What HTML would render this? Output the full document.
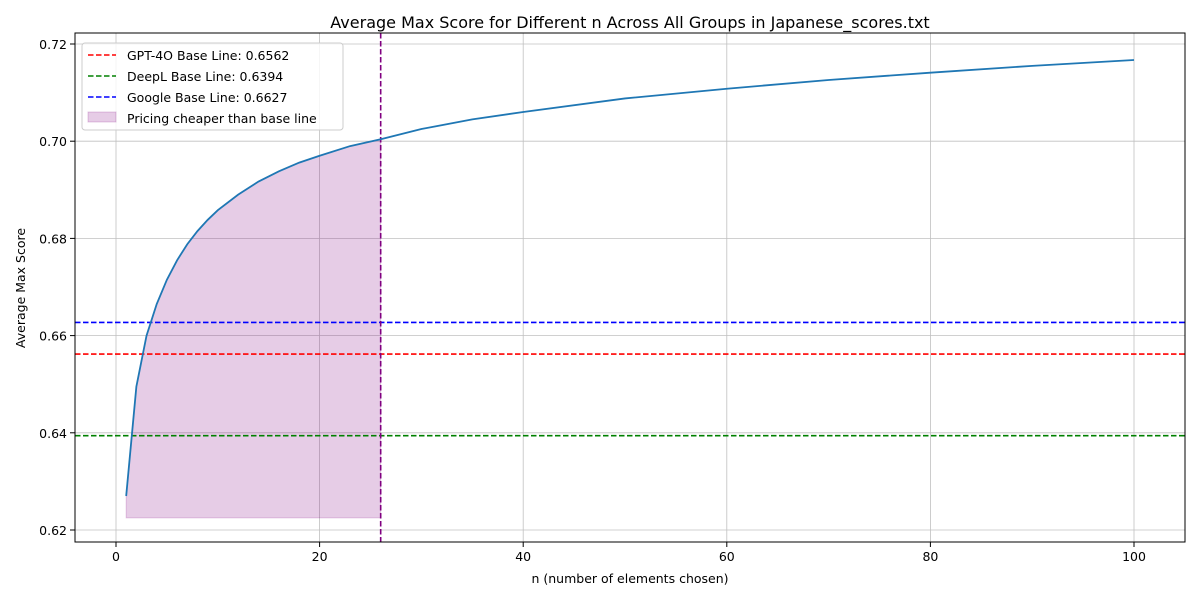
<!DOCTYPE html>
<html><head><meta charset="utf-8"><style>
body{margin:0;background:#fff;font-family:"Liberation Sans","DejaVu Sans",sans-serif}
svg text{font-family:"DejaVu Sans","Liberation Sans",sans-serif}
</style></head><body>
<svg id="chart" width="1200" height="600" viewBox="0 0 1200 600" xmlns="http://www.w3.org/2000/svg">
<rect width="1200" height="600" fill="#fff"/>
<g id="grid"></g>
<g id="marks"></g>
<rect x="75" y="33" width="1110" height="509" fill="none" stroke="#000" stroke-width="1"/>
<g id="ticks"></g>
<text x="630" y="28" text-anchor="middle" font-size="16">Average Max Score for Different n Across All Groups in Japanese_scores.txt</text>
<text x="630" y="583" text-anchor="middle" font-size="12.5">n (number of elements chosen)</text>
<text transform="translate(25,288) rotate(-90)" text-anchor="middle" font-size="12.5">Average Max Score</text>
<g>
<rect x="82" y="43" width="261" height="87" rx="3" fill="#fff" fill-opacity="0.8" stroke="#ccc"/>
<line x1="88" y1="55" x2="116" y2="55" stroke="red" stroke-width="1.6" stroke-dasharray="5.5,2.5"/>
<text x="127" y="60" font-size="12.5">GPT-4O Base Line: 0.6562</text>
<line x1="88" y1="76" x2="116" y2="76" stroke="green" stroke-width="1.6" stroke-dasharray="5.5,2.5"/>
<text x="127" y="81" font-size="12.5">DeepL Base Line: 0.6394</text>
<line x1="88" y1="97" x2="116" y2="97" stroke="blue" stroke-width="1.6" stroke-dasharray="5.5,2.5"/>
<text x="127" y="102" font-size="12.5">Google Base Line: 0.6627</text>
<rect x="88" y="112" width="28" height="10" fill="purple" fill-opacity="0.2" stroke="purple" stroke-opacity="0.2"/>
<text x="127" y="123" font-size="12.5">Pricing cheaper than base line</text>
</g>
</svg>
<script>
const nValues=[1,2,3,4,5,6,7,8,9,10,12,14,16,18,20,23,26,30,35,40,50,60,70,80,90,100];
const scores=[0.627,0.6495,0.6600,0.6665,0.6715,0.6755,0.6788,0.6815,0.6838,0.6858,0.6890,0.6917,0.6938,0.6956,0.6970,0.6990,0.7004,0.7025,0.7045,0.7060,0.7088,0.7108,0.7126,0.7141,0.7155,0.7167];
const baselines=[0.6562,0.6394,0.6627];
const baselineColors=["red","green","blue"];
const cutoffN=26;
const fillBottom=0.6225;
const xTicks=[0,20,40,60,80,100];
const yTicks=[0.62,0.64,0.66,0.68,0.70,0.72];
const X=v=>116+(v-0)*(1134-116)/100;
const Y=v=>530-(v-0.62)*(530-44)/0.1;
const NS="http://www.w3.org/2000/svg";
function mk(tag,attrs,parent){const e=document.createElementNS(NS,tag);for(const k in attrs)e.setAttribute(k,attrs[k]);parent.appendChild(e);return e;}
const grid=document.getElementById('grid'),marks=document.getElementById('marks'),ticks=document.getElementById('ticks');
xTicks.forEach(t=>{
 const g=mk('line',{x1:X(t),x2:X(t),y1:33,y2:542,stroke:'#c0c0c0','stroke-width':0.8},grid);
 
 
 mk('line',{x1:X(t),x2:X(t),y1:542,y2:547,stroke:'#000'},ticks);
 const tx=mk('text',{x:X(t),y:561,'text-anchor':'middle','font-size':12.5},ticks);tx.textContent=t;
 
 
});
yTicks.forEach(t=>{
 const g=mk('line',{x1:75,x2:1185,y1:Y(t),y2:Y(t),stroke:'#c0c0c0','stroke-width':0.8},grid);
 
 
 mk('line',{x1:70,x2:75,y1:Y(t),y2:Y(t),stroke:'#000'},ticks);
 const tx=mk('text',{x:67,y:Y(t)+5,'text-anchor':'end','font-size':12.5},ticks);tx.textContent=t.toFixed(2);
 
 
});
let pts=[];
nValues.forEach((n,i)=>{if(n<=cutoffN)pts.push(X(n)+','+Y(scores[i]));});
pts.push(X(cutoffN)+','+Y(fillBottom));pts.push(X(nValues[0])+','+Y(fillBottom));
const area=mk('polygon',{points:pts.join(' '),fill:'purple','fill-opacity':0.2,stroke:'purple','stroke-opacity':0.2},marks);


baselines.forEach((b,i)=>{
 const l=mk('line',{x1:75,x2:1185,y1:Y(b),y2:Y(b),stroke:baselineColors[i],'stroke-width':1.6,'stroke-dasharray':'5.5,2.5'},marks);
 
 
});
const vl=mk('line',{x1:X(cutoffN),x2:X(cutoffN),y1:33,y2:542,stroke:'purple','stroke-width':1.6,'stroke-dasharray':'5.5,2.5'},marks);


const line=mk('polyline',{points:nValues.map((n,i)=>X(n)+','+Y(scores[i])).join(' '),fill:'none',stroke:'#1f77b4','stroke-width':1.8},marks);


</script>
</body></html>
